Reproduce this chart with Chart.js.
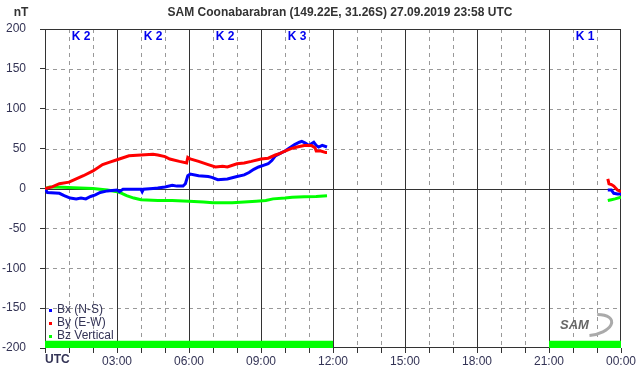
<!DOCTYPE html>
<html>
<head>
<meta charset="utf-8">
<script src="https://cdn.jsdelivr.net/npm/chart.js@4/dist/chart.umd.min.js"></script>
<style>
  body { margin: 0; background: #fff; }
</style>
</head>
<body>
<canvas id="myChart" width="642" height="376"></canvas>
<script>
// hours since 00:00 UTC, null = no data
const bxTime = [0, 0.1, 0.6, 0.8, 1.05, 1.3, 1.5, 1.7, 1.9, 2.1, 2.3, 2.6, 2.8, 3.0, 3.1, 3.25, 3.5, 4.0, 4.05, 4.1, 4.5, 4.7, 5.0, 5.3, 5.5, 5.75, 5.85, 5.95, 6.05, 6.4, 6.8, 6.95, 7.2, 7.6, 8.0, 8.3, 8.5, 8.7, 8.9, 9.1, 9.3, 9.45, 9.6, 9.8, 10.0, 10.2, 10.4, 10.6, 10.7, 10.85, 11.0, 11.1, 11.2, 11.3, 11.4, 11.55, 11.75, 12, 23.45, 23.6, 23.7, 23.85, 24];
const bxValue = [0, -5, -6, -9, -12, -13, -12, -13, -10, -8, -5, -3, -2.5, -2, -4, -1, -1, -1, -4, -1, 0, 0.5, 2, 4, 3, 3, 6, 16, 18, 16, 15, 14, 11, 12, 15, 17, 20, 24, 27, 29, 31, 35, 41, 44, 47, 51, 55, 58, 59, 57, 54, 56, 58, 54, 52, 54, 52, null, -2, -2, -6, -7, -7];

const byTime = [0, 0.3, 0.6, 1.0, 1.3, 1.6, 2.0, 2.4, 2.7, 3.0, 3.5, 4.0, 4.5, 4.7, 5.0, 5.2, 5.6, 5.9, 5.95, 6.05, 6.4, 6.8, 7.1, 7.4, 7.6, 8.0, 8.3, 8.6, 9.0, 9.3, 9.6, 9.8, 10.0, 10.25, 10.5, 10.8, 11.1, 11.25, 11.3, 11.5, 11.7, 11.75, 12, 23.45, 23.5, 23.6, 23.7, 23.85, 24];
const byValue = [0, 2, 6, 8, 12, 16, 22, 30, 33, 36, 41, 42, 43, 42, 40, 37, 34, 32, 39, 37, 34, 30, 27, 28, 27, 31, 32, 34, 37, 38, 42, 44, 47, 50, 52, 54, 54, 51, 47, 47, 45, 45, null, 12, 6, 5, 3, -2, -4];

const bzTime = [0, 0.2, 0.7, 1.2, 2.0, 2.6, 3.0, 3.2, 3.4, 3.7, 4.0, 4.7, 5.3, 6.0, 6.6, 7.0, 7.4, 7.8, 8.3, 8.8, 9.2, 9.5, 10.0, 10.3, 10.8, 11.3, 11.75, 12, 23.45, 23.6, 23.75, 24];
const bzValue = [0, 2, 1.5, 1, 0, -2, -4, -6, -9, -12, -14, -15, -15, -16, -17, -18, -18, -18, -17, -16, -15, -13, -12, -11, -10.5, -10, -9, null, -15, -14, -13, -11];

// data coverage bars at the bottom
const coverStart = [0, 21];
const coverEnd = [12, 24];

// K index per 3-hour block
const kHours = [1.5, 4.5, 7.5, 10.5, 22.5];
const kValues = [2, 2, 2, 3, 1];

const yTicks = [-200, -150, -100, -50, 0, 50, 100, 150, 200];
const hourLabels = ["UTC", "03:00", "06:00", "09:00", "12:00", "15:00", "18:00", "21:00", "00:00"];

const toPoints = (t, v) => t.map((x, i) => ({ x: x, y: v[i] }));

const coverPoints = [];
coverStart.forEach((s, i) => {
  coverPoints.push({ x: s, y: -191 }, { x: coverEnd[i], y: -191 });
  if (i < coverStart.length - 1) coverPoints.push({ x: (coverEnd[i] + coverStart[i + 1]) / 2, y: null });
});

const textColor = "#333355";

// grid, K labels, title, legend, logo
const decorations = {
  id: "decorations",
  beforeDatasetsDraw(chart) {
    const { ctx, chartArea: a, scales: { x, y } } = chart;
    ctx.save();
    ctx.strokeStyle = "#999";
    ctx.lineWidth = 1;
    ctx.setLineDash([4, 4]);
    for (let h = 1; h < 24; h++) {
      if (h % 3 === 0) continue;
      const px = Math.round(x.getPixelForValue(h)) + 0.5;
      ctx.beginPath(); ctx.moveTo(px, a.top); ctx.lineTo(px, a.bottom); ctx.stroke();
    }
    yTicks.forEach(v => {
      if (v === 0 || Math.abs(v) === 200) return;
      const py = Math.round(y.getPixelForValue(v)) + 0.5;
      ctx.beginPath(); ctx.moveTo(a.left, py); ctx.lineTo(a.right, py); ctx.stroke();
    });
    ctx.setLineDash([]);
    ctx.strokeStyle = "#333";
    for (let h = 3; h < 24; h += 3) {
      const px = Math.round(x.getPixelForValue(h)) + 0.5;
      ctx.beginPath(); ctx.moveTo(px, a.top); ctx.lineTo(px, a.bottom); ctx.stroke();
    }
    const y0 = Math.round(y.getPixelForValue(0)) + 0.5;
    ctx.beginPath(); ctx.moveTo(a.left, y0); ctx.lineTo(a.right, y0); ctx.stroke();
    ctx.strokeRect(Math.round(a.left) + 0.5, Math.round(a.top) + 0.5, Math.round(a.right - a.left) - 1, Math.round(a.bottom - a.top) - 1);

    // K indices
    ctx.fillStyle = "#0000ee";
    ctx.font = "bold 12px 'Liberation Sans', Arial";
    ctx.textAlign = "center";
    ctx.textBaseline = "middle";
    kHours.forEach((h, i) => ctx.fillText("K " + kValues[i], x.getPixelForValue(h), a.top + 8));
    ctx.restore();
  },
  afterDraw(chart) {
    const { ctx, chartArea: a, scales: { x } } = chart;
    ctx.save();
    ctx.fillStyle = "#333";
    ctx.textBaseline = "middle";
    ctx.font = "bold 12px 'Liberation Sans', Arial";
    ctx.textAlign = "center";
    ctx.fillText("SAM Coonabarabran (149.22E, 31.26S) 27.09.2019 23:58 UTC", 340, 13);
    ctx.fillText("nT", 21, 13);
    ctx.fillStyle = textColor;
    ctx.textAlign = "left";
    ctx.fillText(hourLabels[0], a.left, 360);

    // legend
    ctx.font = "12px 'Liberation Sans', Arial";
    chart.data.datasets.slice(0, 3).forEach((ds, i) => {
      const ly = 310 + i * 13;
      ctx.fillStyle = ds.borderColor;
      ctx.fillRect(49, ly - 1, 3, 3);
      ctx.fillStyle = textColor;
      ctx.fillText(ds.label, 57, ly);
    });

    // little SAM logo
    ctx.strokeStyle = "#aaa";
    ctx.lineWidth = 3;
    ctx.beginPath();
    ctx.ellipse(592, 325, 20, 10, -0.2, -1.2, 1.8);
    ctx.stroke();
    ctx.fillStyle = "#666";
    ctx.font = "italic bold 13px 'Liberation Sans', Arial";
    ctx.fillText("SAM", 560, 325);
    ctx.restore();
  }
};

new Chart(document.getElementById("myChart"), {
  type: "line",
  data: {
    datasets: [
      { label: "Bx (N-S)", data: toPoints(bxTime, bxValue), borderColor: "#0000ff", borderWidth: 3, pointRadius: 0, spanGaps: false, order: 2 },
      { label: "By (E-W)", data: toPoints(byTime, byValue), borderColor: "#ff0000", borderWidth: 3, pointRadius: 0, spanGaps: false, order: 1 },
      { label: "Bz Vertical", data: toPoints(bzTime, bzValue), borderColor: "#00ff00", borderWidth: 3, pointRadius: 0, spanGaps: false, order: 3 },
      { label: "coverage", data: coverPoints, borderColor: "#00ff00", backgroundColor: "#00ff00", borderWidth: 0, pointRadius: 0, fill: "start", spanGaps: false, order: 4 }
    ]
  },
  options: {
    responsive: false,
    animation: false,
    events: [],
    layout: { padding: { top: 29, right: 21, left: 0, bottom: 0 } },
    plugins: { legend: { display: false }, title: { display: false }, tooltip: { enabled: false } },
    scales: {
      x: {
        type: "linear", min: 0, max: 24,
        afterFit: s => { s.height = 28; },
        afterBuildTicks: s => { s.ticks = Array.from({ length: 25 }, (_, i) => ({ value: i })); },
        border: { display: false },
        grid: { drawOnChartArea: false, tickLength: 5, color: "#333" },
        ticks: {
          autoSkip: false, maxRotation: 0, padding: 1, color: textColor,
          font: { family: "'Liberation Sans', Arial", size: 12 },
          callback: v => (v % 3 === 0 && v > 0 ? hourLabels[v / 3] : "")
        }
      },
      y: {
        min: -200, max: 200,
        afterFit: s => { s.width = 45; },
        afterBuildTicks: s => { s.ticks = yTicks.map(v => ({ value: v })); },
        border: { display: false },
        grid: { drawOnChartArea: false, tickLength: 5, color: "#333" },
        ticks: { padding: 14, color: textColor, font: { family: "'Liberation Sans', Arial", size: 12 } }
      }
    }
  },
  plugins: [decorations]
});
</script>
</body>
</html>
